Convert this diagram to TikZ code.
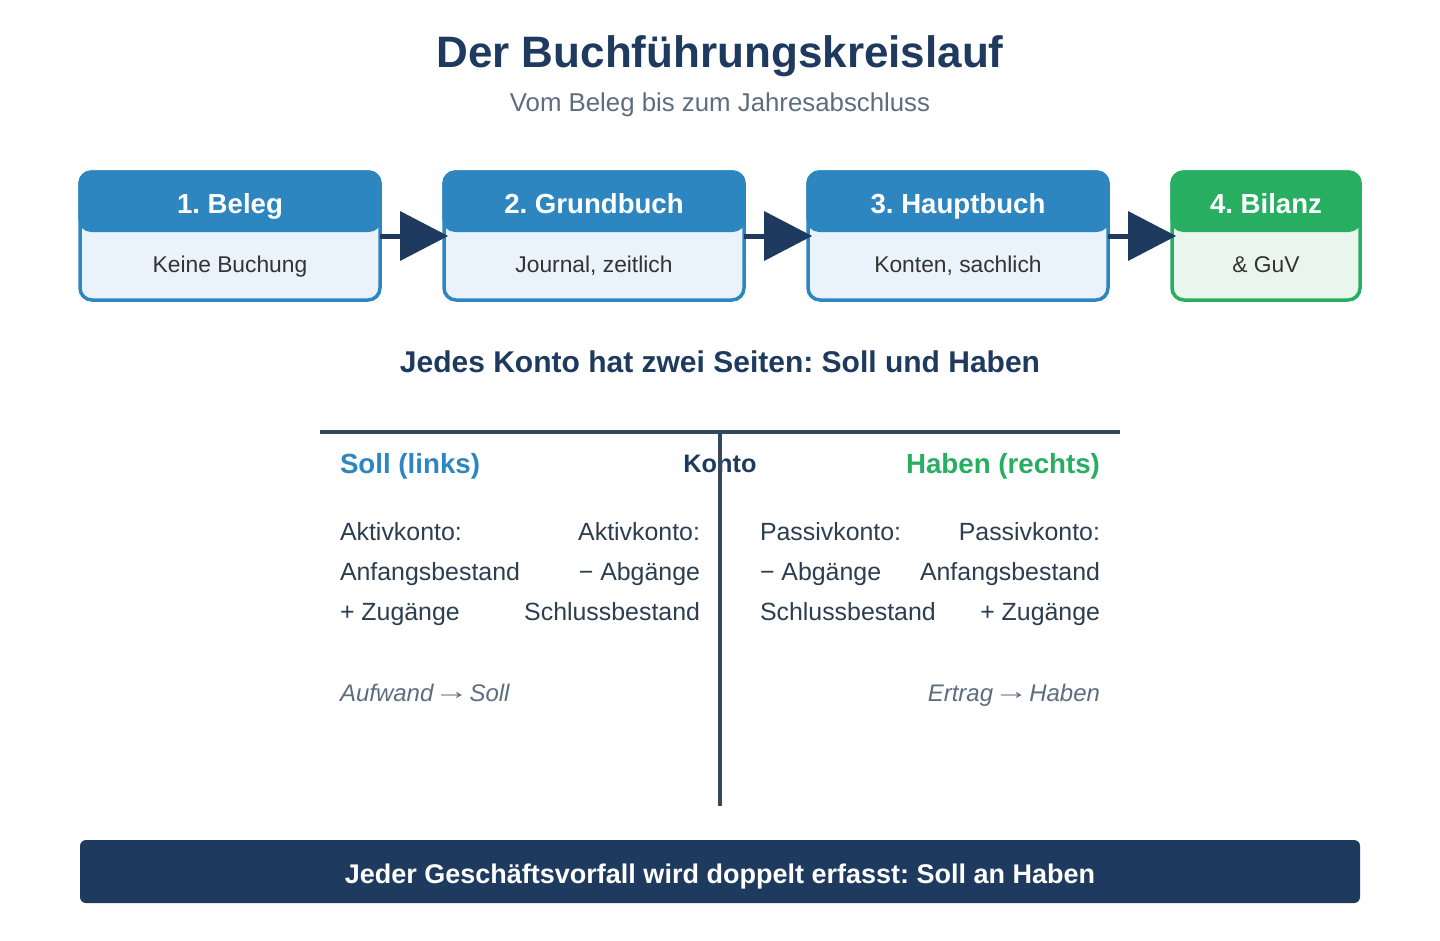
\documentclass[tikz,border=0pt]{standalone}
\usepackage{fontspec}
\usepackage{graphicx}
\setmainfont{Liberation Sans}
\usetikzlibrary{arrows.meta}
\definecolor{navy}{HTML}{1F3A5F}
\definecolor{cblue}{HTML}{2E86C1}
\definecolor{clightblue}{HTML}{EAF2FB}
\definecolor{cgreen}{HTML}{27AE60}
\definecolor{clightgreen}{HTML}{E8F6EE}
\definecolor{ctext}{HTML}{333333}
\definecolor{cgray}{HTML}{5D6D7E}
\definecolor{cline}{HTML}{34495E}
\definecolor{ctdark}{HTML}{2C3E50}
\newcommand{\fsz}[1]{\fontsize{#1}{#1}\selectfont}
\newcommand{\wideto}{\hspace{-0.25em}\raisebox{0.08em}{\scalebox{1.45}[1]{→}}\hspace{-0.25em}}
\frenchspacing
\begin{document}
\begin{tikzpicture}[x=1pt,y=-1pt,
  txt/.style={inner sep=0pt, outer sep=0pt, anchor=base},
  stepbox/.style={line width=3.5pt, rounded corners=12pt, inner sep=0pt, outer sep=0pt, minimum height=128pt},
  headbox/.style={rounded corners=13pt, inner sep=0pt, outer sep=0pt, minimum height=61.75pt, anchor=north},
  headtxt/.style={txt, text=white, font=\fsz{27.6}\bfseries},
  bodytxt/.style={txt, text=ctext, font=\fsz{22.8}},
  arr/.style={draw=navy, line width=5pt, -{Triangle[length=48pt,width=50pt,line width=0pt]}, shorten >=-4pt},
  rowtxt/.style={txt, text=ctdark, font=\fsz{24.9}},
  notetxt/.style={txt, text=cgray, font=\fsz{24}\itshape},
  tline/.style={draw=cline, line width=4.5pt}
]
\useasboundingbox (0,0) rectangle (1440,940);
\fill[white] (0,0) rectangle (1440,940);

% Title
\node[txt, text=navy, font=\fsz{44}\bfseries] (title) at (720,67) {Der Buchführungskreislauf};
\node[txt, text=cgray, font=\fsz{25.8}] (subtitle) at (720,111) {Vom Beleg bis zum Jahresabschluss};

% Boxes
\node[stepbox, draw=cblue, fill=clightblue, minimum width=300pt] (b1) at (230,236) {};
\node[headbox, fill=cblue, minimum width=303.5pt] (h1) at ([yshift=1.75pt]b1.north) {};
\node[headtxt] (t1) at (230,213) {1. Beleg};
\node[bodytxt] (s1) at (230,272) {Keine Buchung};

\node[stepbox, draw=cblue, fill=clightblue, minimum width=300pt] (b2) at (594,236) {};
\node[headbox, fill=cblue, minimum width=303.5pt] (h2) at ([yshift=1.75pt]b2.north) {};
\node[headtxt] (t2) at (594,213) {2. Grundbuch};
\node[bodytxt] (s2) at (594,272) {Journal, zeitlich};

\node[stepbox, draw=cblue, fill=clightblue, minimum width=300pt] (b3) at (958,236) {};
\node[headbox, fill=cblue, minimum width=303.5pt] (h3) at ([yshift=1.75pt]b3.north) {};
\node[headtxt] (t3) at (958,213) {3. Hauptbuch};
\node[bodytxt] (s3) at (958,272) {Konten, sachlich};

\node[stepbox, draw=cgreen, fill=clightgreen, minimum width=188pt] (b4) at (1266,236) {};
\node[headbox, fill=cgreen, minimum width=191.5pt] (h4) at ([yshift=1.75pt]b4.north) {};
\node[headtxt] (t4) at (1266,213) {4. Bilanz};
\node[bodytxt] (s4) at (1266,272) {\& GuV};

% Arrows
\draw[arr] (b1.east) -- (b2.west);
\draw[arr] (b2.east) -- (b3.west);
\draw[arr] (b3.east) -- (b4.west);

% Heading
\node[txt, text=navy, font=\fsz{30}\bfseries] (heading) at (720,372) {Jedes Konto hat zwei Seiten: Soll und Haben};

% T-account texts
\node[txt, anchor=base west, text=cblue, font=\fsz{27.7}\bfseries] (soll) at (340,473) {Soll (links)};
\node[txt, text=navy, font=\fsz{25.3}\bfseries] (konto) at (720,472) {Konto};
\node[txt, anchor=base east, text=cgreen, font=\fsz{27.7}\bfseries] (haben) at (1100,473) {Haben (rechts)};

\node[rowtxt, anchor=base west] (l1) at (340,540) {Aktivkonto:};
\node[rowtxt, anchor=base west] (l2) at (340,580) {Anfangsbestand};
\node[rowtxt, anchor=base west] (l3) at (340,620) {+ Zugänge};
\node[rowtxt, anchor=base east] (m1) at (700,540) {Aktivkonto:};
\node[rowtxt, anchor=base east] (m2) at (700,580) {− Abgänge};
\node[rowtxt, anchor=base east] (m3) at (700,620) {Schlussbestand};

\node[rowtxt, anchor=base west] (n1) at (760,540) {Passivkonto:};
\node[rowtxt, anchor=base west] (n2) at (760,580) {− Abgänge};
\node[rowtxt, anchor=base west] (n3) at (760,620) {Schlussbestand};
\node[rowtxt, anchor=base east] (r1) at (1100,540) {Passivkonto:};
\node[rowtxt, anchor=base east] (r2) at (1100,580) {Anfangsbestand};
\node[rowtxt, anchor=base east] (r3) at (1100,620) {+ Zugänge};

\node[notetxt, anchor=base west] (aufw) at (340,701) {Aufwand \wideto{} Soll};
\node[notetxt, anchor=base east] (ertr) at (1100,701) {Ertrag \wideto{} Haben};

% T lines
\coordinate (tl) at (320,432);
\coordinate (tr) at (1120,432);
\coordinate (tt) at (720,430);
\coordinate (tb) at (720,806);
\draw[tline] (tl) -- (tr);
\draw[tline] (tt) -- (tb);

% Bottom bar
\node[fill=navy, rounded corners=6pt, inner sep=0pt, outer sep=0pt, minimum width=1280pt, minimum height=63pt] (bar) at (720,871.5) {};
\node[txt, text=white, font=\fsz{27}\bfseries] (bartxt) at (720,883) {Jeder Geschäftsvorfall wird doppelt erfasst: Soll an Haben};
\end{tikzpicture}
\end{document}
